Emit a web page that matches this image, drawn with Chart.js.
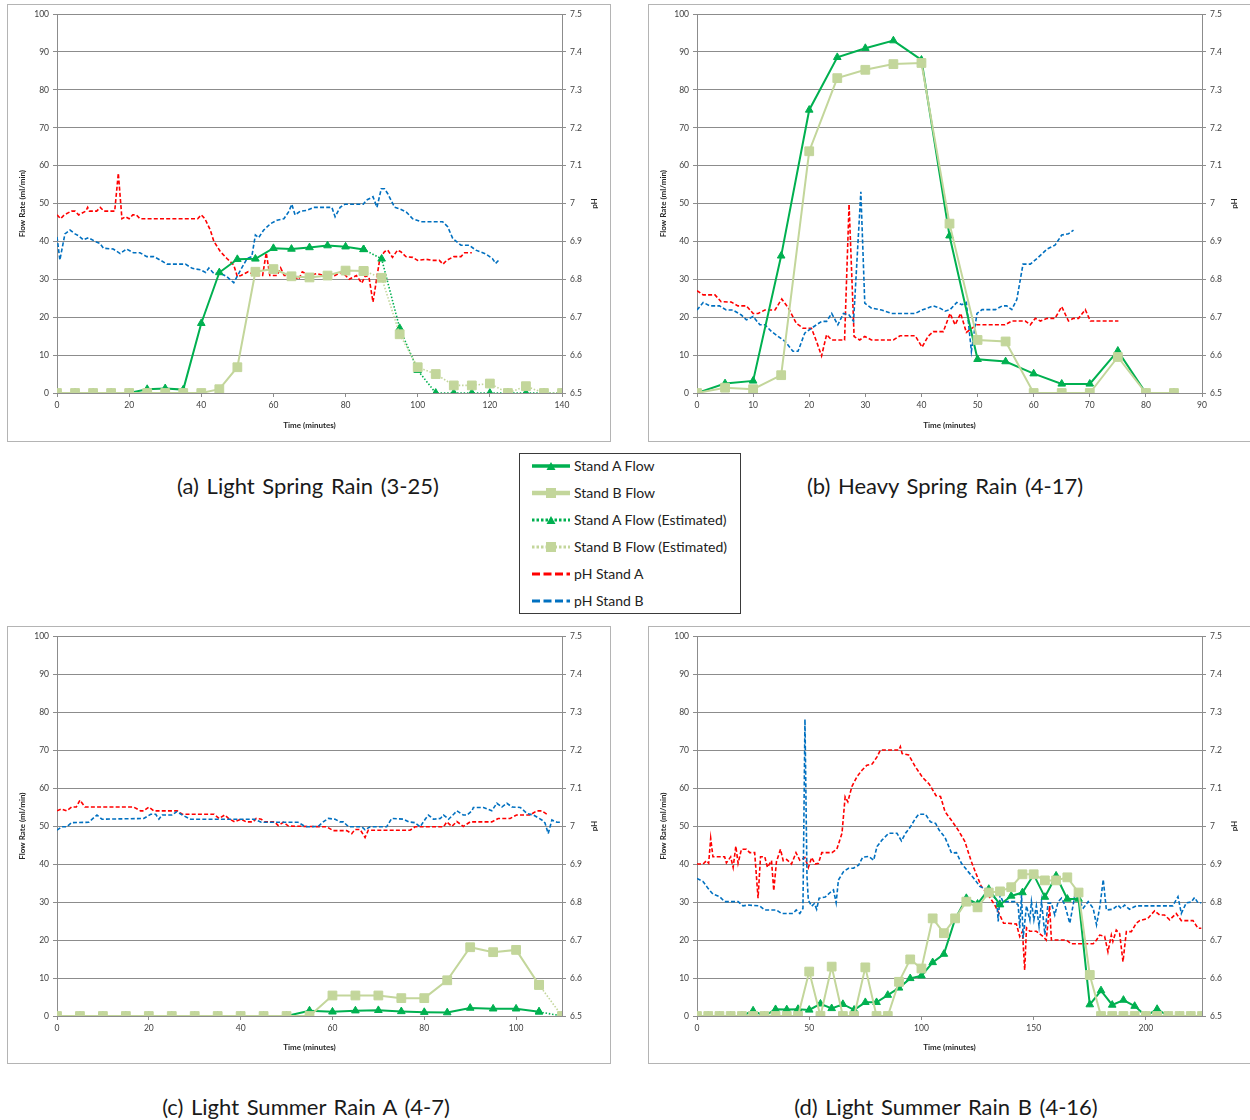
<!DOCTYPE html>
<html><head><meta charset="utf-8">
<script src="https://cdn.jsdelivr.net/npm/chart.js@4.4.1/dist/chart.umd.min.js"></script>
<style>
body{margin:0;width:1250px;height:1120px;overflow:hidden;background:#fff;font-family:Lato,sans-serif;position:relative}
.box{position:absolute;width:602px;height:436px;border:1px solid #b4b4b4;background:#fff}
.box canvas{position:absolute;left:0;top:0}
.cap{position:absolute;font-size:22px;word-spacing:2px;color:#1a1a1a;transform:translate(-50%,-50%);white-space:nowrap;font-family:Lato,sans-serif}
#legend{position:absolute;left:519px;top:453px;width:220px;height:159px;border:1px solid #3a3a3a;background:#fff}
.row{position:absolute;left:0;height:20px;width:220px}
.row svg{position:absolute;left:12px;top:3px}
.row span{position:absolute;left:54px;top:0px;font-size:14px;color:#222;line-height:18px;white-space:nowrap}
</style></head><body>

<div class="box" style="left:7px;top:4px"><canvas id="ca" width="602" height="436"></canvas></div>
<div class="box" style="left:648px;top:4px"><canvas id="cb" width="602" height="436"></canvas></div>
<div class="box" style="left:7px;top:626px"><canvas id="cc" width="602" height="436"></canvas></div>
<div class="box" style="left:648px;top:626px"><canvas id="cd" width="602" height="436"></canvas></div>

<div class="cap" style="left:308px;top:485px">(a) Light Spring Rain (3-25)</div>
<div class="cap" style="left:945px;top:485px">(b) Heavy Spring Rain (4-17)</div>
<div class="cap" style="left:306px;top:1106px">(c) Light Summer Rain A (4-7)</div>
<div class="cap" style="left:946px;top:1106px">(d) Light Summer Rain B (4-16)</div>

<div id="legend"></div>

<script>
// ---------- legend labels ----------
const seriesNames = ['Stand A Flow','Stand B Flow','Stand A Flow (Estimated)','Stand B Flow (Estimated)','pH Stand A','pH Stand B'];

// ---------- panel (a) ----------
const aFlowTime = [0,5,10,15,20,25,30,35,40,45,50,55,60,65,70,75,80,85];
const aFlowA = [0,0,0,0,0,1.0,1.2,0.9,18.4,31.8,35.3,35.4,38.2,38.0,38.4,38.9,38.6,37.9];
const aFlowB = [0,0,0,0,0,0,0,0,0,1.0,6.8,32.0,32.7,30.8,30.5,31.0,32.3,32.2];
const aEstTime = [85,90,95,100,105,110,115,120,125,130,135,140];
const aFlowAEst = [37.9,35.4,17.1,6.0,0,0,0,0,0,0,0,0];
const aFlowBEst = [32.2,30.4,15.5,6.8,5.0,2.0,2.0,2.5,0,1.8,0,0];
const aPhATime = [0,1,2,4,5,6,7,8,8.5,9,11,12,13,16,17,18,19,20,21,22,23,39,40,41,42.5,43.5,45.3,47.1,49,50,51,53,55,57,58,59,61,62,63,65,67,68,70,72,74,75,77,79,80,81,83,84.5,85.5,86.5,87.6,89.5,90.8,91.7,93,94.4,95.3,96.7,98.6,100,102.3,104,106,107,108,110,112,113,115];
const aPhA = [6.97,6.96,6.97,6.98,6.98,6.97,6.975,6.98,6.99,6.98,6.98,6.99,6.98,6.98,7.08,6.96,6.965,6.96,6.97,6.97,6.96,6.96,6.97,6.96,6.93,6.90,6.873,6.855,6.838,6.807,6.81,6.82,6.81,6.81,6.87,6.81,6.81,6.83,6.81,6.81,6.80,6.82,6.81,6.815,6.81,6.82,6.81,6.82,6.81,6.80,6.81,6.79,6.81,6.805,6.74,6.855,6.873,6.877,6.858,6.877,6.873,6.86,6.858,6.85,6.853,6.85,6.85,6.84,6.85,6.86,6.86,6.87,6.87];
const aPhBTime = [0,0.8,2.2,3.6,5,6,7.3,8.7,10.6,11.9,12.9,15.6,17.5,19.3,21.2,23,24.9,26.8,28.6,30.5,35.6,37.5,39.8,41.2,42.1,43.5,45.3,47.1,49,50.4,52.7,54,55,55.9,57.3,59.2,61,62.9,64.2,65.1,66,67.5,69.3,71.2,74,76.2,77.1,78.5,79.8,84.9,85.8,87.6,88.7,89.9,90.8,91.7,93.6,95,96.8,98.6,100.9,106.9,108.3,109.7,112,114.3,116.1,118.9,120.7,121.6,122.5];
const aPhB = [6.912,6.851,6.92,6.93,6.92,6.915,6.904,6.91,6.90,6.895,6.882,6.88,6.868,6.88,6.87,6.87,6.86,6.86,6.851,6.84,6.84,6.829,6.825,6.818,6.83,6.815,6.816,6.807,6.791,6.816,6.855,6.86,6.917,6.91,6.93,6.947,6.956,6.96,6.978,6.998,6.97,6.98,6.982,6.99,6.99,6.99,6.965,6.99,6.998,6.998,7.009,7.018,6.99,7.039,7.039,7.026,6.99,6.986,6.978,6.96,6.952,6.952,6.939,6.908,6.89,6.89,6.877,6.867,6.855,6.842,6.851];

// ---------- panel (b) ----------
const bFlowTime = [0,5,10,15,20,25,30,35,40,45,50,55,60,65,70,75,80,85];
const bFlowA = [0,2.5,3.2,36.2,74.7,88.6,91,93,87.9,41.5,8.9,8.3,5.1,2.4,2.4,11.1,0,0];
const bFlowB = [0,1.4,1.0,4.7,63.8,83.1,85.3,86.8,87.1,44.7,14.0,13.6,0,0,0,9.5,0,0];
const bPhATime = [0,1.1,3.2,4.3,6.1,7.3,8.8,10,10.9,12.1,13.9,15.1,16.3,17.7,18.9,20.4,21.3,22.2,23.1,24,26.3,27.1,28,29,29.9,31.1,35,36.2,38.9,40.1,41.2,42.1,43.9,45.1,46,47,48,48.9,49.9,54.9,56.1,58.5,59.4,60.3,61.2,62.4,63.8,65,66.2,67.1,68,69.2,70.1,75.1];
const bPhA = [6.77,6.759,6.759,6.741,6.74,6.73,6.73,6.71,6.71,6.719,6.719,6.748,6.724,6.684,6.671,6.671,6.636,6.598,6.654,6.64,6.64,6.998,6.649,6.64,6.649,6.64,6.64,6.651,6.651,6.621,6.65,6.662,6.662,6.71,6.68,6.71,6.66,6.67,6.68,6.68,6.69,6.69,6.68,6.697,6.69,6.697,6.697,6.728,6.69,6.697,6.697,6.72,6.69,6.69];
const bPhBTime = [0,1.1,2.3,4,5.2,6.4,7.9,8.8,10,11.2,12.1,13.3,14.5,15.7,17.1,18,19.2,20.4,22.2,23.1,24,25.1,26.1,27.1,27.9,29.2,29.9,31.1,32.9,34.7,38.9,40.1,42.1,43.3,44.2,45.1,46.3,47.2,48,48.9,49.9,50.8,53.2,54.4,55.2,56.1,57,58.1,59.4,60.6,62.4,63.8,65,66.2,67.1];
const bPhB = [6.719,6.739,6.73,6.73,6.719,6.719,6.706,6.693,6.702,6.68,6.68,6.662,6.649,6.636,6.61,6.61,6.658,6.671,6.689,6.689,6.71,6.68,6.71,6.706,6.689,7.031,6.737,6.724,6.719,6.71,6.71,6.719,6.73,6.724,6.716,6.72,6.739,6.733,6.739,6.61,6.71,6.72,6.72,6.73,6.73,6.72,6.747,6.84,6.84,6.855,6.88,6.89,6.917,6.92,6.93];

// ---------- panel (c) ----------
const cFlowTime = [0,5,10,15,20,25,30,35,40,45,50,55,60,65,70,75,80,85,90,95,100,105];
const cFlowA = [0,0,0,0,0,0,0,0,0,0,0,1.4,1.1,1.4,1.5,1.2,1.0,0.9,2.1,1.9,1.9,1.1];
const cFlowB = [0,0,0,0,0,0,0,0,0,0,0,0,5.4,5.4,5.4,4.7,4.7,9.4,18.1,16.8,17.4,8.2];
const cEstTime = [105,110];
const cFlowAEst = [1.1,0];
const cFlowBEst = [8.2,0];
const cPhATime = [0,1,2.1,3.2,4.2,5,6.1,16.7,18.2,18.9,20,21.1,26.2,27.3,34.2,35.3,36.5,37.6,38.7,40.1,41.2,42.7,43.4,44.5,45.2,47.4,48.2,49.3,50.4,58.7,60.2,63.1,64.2,64.9,66,67.1,67.8,76.9,78,84.2,84.9,86,87.1,88.5,90,94.7,96.1,98.7,100.1,103,104.5,105.6,107];
const cPhA = [7.04,7.045,7.04,7.05,7.05,7.068,7.05,7.05,7.04,7.04,7.05,7.04,7.04,7.031,7.031,7.02,7.029,7.018,7.011,7.018,7.011,7.011,7.02,7.018,7.011,7.011,7.001,7.01,7.0,6.998,6.988,6.988,6.98,6.991,6.991,6.97,6.989,6.989,6.998,6.998,7.011,6.999,7.012,6.999,7.011,7.011,7.02,7.02,7.029,7.029,7.04,7.04,7.029];
const cPhBTime = [0,1,2.1,3.2,6.9,8.7,9.8,18.9,20.4,21.5,22.2,22.9,25.1,26.1,27.3,29.1,43,44.5,52.5,53.6,54.4,56.9,58,59.1,60.6,61.6,62.4,63.5,66.4,67.1,68.2,71.8,72.9,75.5,76.6,78,79.1,80.2,80.9,82,83.5,84.2,85.3,86.4,87.1,88.5,89.3,90.4,90.7,92.9,94.7,95.8,96.9,98,99.1,100.9,102.4,103.8,105.6,106.3,107,107.8,108.9,110];
const cPhB = [6.989,6.998,6.998,7.009,7.01,7.029,7.018,7.02,7.031,7.031,7.018,7.029,7.029,7.038,7.029,7.018,7.018,7.01,7.01,7.002,6.998,6.999,7.011,7.02,7.018,7.011,7.011,6.998,6.998,6.99,6.998,6.998,7.02,7.018,7.011,7.009,6.998,7.018,7.029,7.018,7.02,7.029,7.018,7.031,7.04,7.029,7.029,7.04,7.049,7.049,7.04,7.06,7.05,7.06,7.05,7.049,7.033,7.029,7.016,7.008,6.98,7.016,7.01,7.01];

// ---------- panel (d) ----------
const dFlowTime = [0,5,10,15,20,25,30,35,40,45,50,55,60,65,70,75,80,85,90,95,100,105,110,115,120,125,130,135,140,145,150,155,160,165,170,175,180,185,190,195,200,205,210,215,220,225];
const dFlowA = [0,0,0,0,0,1.4,0,1.75,1.7,1.8,1.6,3.2,2.0,3.1,1.6,3.6,3.6,5.5,7.4,9.9,10.6,14.1,16.3,25.5,31,29.5,33.4,29.3,31.6,32.5,37.2,31.3,36.9,30.8,30.8,3.0,6.7,2.9,4.2,2.6,0,1.8,0,0,0,0];
const dFlowB = [0,0,0,0,0,0,0,0,0,0,11.7,0,13,0,0,12.8,0,0,9,14.9,12.5,25.7,21.8,25.7,30.1,28.6,32.5,32.8,33.9,37.3,37.3,35.7,35.7,36.5,32.5,10.8,0,0,0,0,0,0,0,0,0,0];
const dPhATime = [0,2.7,4.2,5.2,6.1,7.1,12.3,13.1,15,16.1,17.3,18.3,19.8,22,23.5,25.7,27.2,28.3,30.2,31.4,33.2,34.2,35.4,37.2,38.4,39.9,42.1,44.1,45.8,48.1,49.6,51.1,52.6,54.1,55.6,60.1,62.3,64.6,66,67.2,69,71.3,73.5,75.7,78,80.2,81.7,89.9,90.6,91.4,94.3,97.3,100.5,103.5,106.5,108.5,110.5,113.5,116.3,119.3,122.2,124.5,126.7,129.7,132.6,134.9,136.6,138.6,142.3,143.8,145,146,146.8,148.3,151.2,154.2,155.6,157.1,157.9,160.1,164.6,166.8,176.5,178,179.4,181.6,183.1,184.6,185.3,186.8,188.3,189.8,191.3,193.5,195.7,197.2,200.9,203.9,206.1,208.3,210.6,213.5,215.8,221,223.2,224.7];
const dPhA = [6.90,6.90,6.909,6.902,6.968,6.919,6.919,6.903,6.919,6.891,6.947,6.902,6.939,6.939,6.93,6.93,6.81,6.919,6.919,6.891,6.909,6.83,6.906,6.939,6.909,6.912,6.90,6.93,6.91,6.917,6.891,6.917,6.90,6.902,6.93,6.93,6.939,6.981,7.077,7.064,7.104,7.13,7.147,7.16,7.163,7.182,7.20,7.20,7.209,7.191,7.187,7.156,7.128,7.11,7.08,7.078,7.038,7.014,6.99,6.96,6.907,6.872,6.841,6.819,6.793,6.766,6.744,6.744,6.742,6.709,6.723,6.621,6.732,6.723,6.723,6.709,6.70,6.79,6.70,6.70,6.70,6.69,6.69,6.70,6.713,6.71,6.669,6.713,6.696,6.726,6.717,6.643,6.722,6.722,6.744,6.751,6.757,6.777,6.766,6.766,6.753,6.77,6.751,6.751,6.731,6.731];
const dPhBTime = [0,2.7,4.9,7.1,10.1,12.3,18.3,20.5,22.7,27.9,30.2,35.4,37.6,42.8,44.2,45.8,47.2,48.1,49,49.6,51.1,52.3,53.3,54.4,57.1,59.3,60.8,62,63,65.3,67.5,69.7,72,73.8,76.5,78.7,80.2,82.4,85.4,89.1,91.1,92.9,95.1,97.3,98.8,101.8,104,106.3,107.8,110.5,113.4,115.6,117.8,120.8,123.8,126,129,131.2,133.5,134.2,135,136.4,137.9,141.6,143.1,143.8,144.6,145.3,146.8,148.3,149,150.1,151.2,152.4,153.5,155,156.4,157.9,159.4,160.9,162.4,163.9,166.1,168.4,169.8,172.1,174.3,176.5,178,179.5,181,182.4,185.3,187.5,189,190.5,192.7,195.7,212,214.3,215.8,218,220.2,221.7,223.2,224.7];
const dPhB = [6.862,6.854,6.836,6.821,6.814,6.801,6.801,6.79,6.792,6.79,6.779,6.779,6.77,6.77,6.779,6.77,6.783,7.281,6.867,6.805,6.789,6.796,6.781,6.81,6.813,6.825,6.832,6.798,6.858,6.88,6.889,6.889,6.897,6.918,6.92,6.91,6.946,6.963,6.981,6.981,6.961,6.981,6.998,7.02,7.031,7.031,7.011,7.007,6.99,6.97,6.929,6.93,6.902,6.88,6.859,6.841,6.834,6.819,6.806,6.749,6.819,6.80,6.801,6.801,6.792,6.731,6.819,6.705,6.79,6.753,6.801,6.753,6.79,6.736,6.801,6.714,6.797,6.797,6.766,6.801,6.81,6.792,6.744,6.819,6.81,6.784,6.801,6.784,6.74,6.788,6.859,6.779,6.781,6.792,6.783,6.792,6.781,6.79,6.79,6.814,6.77,6.798,6.80,6.812,6.798,6.798];

// ---------- styling ----------
const COL_A = '#00B050', COL_B = '#C3D69B', COL_PHA = '#FF0000', COL_PHB = '#0070C0';
const GRID = '#8c8c8c', TICKC = '#404040', TITLEC = '#262626';
Chart.defaults.font.family = 'Lato, sans-serif';

function pts(t, v){ return t.map((x,i)=>({x:x, y:v[i]})); }

function flowDs(label, t, v, kind, est){
  const isA = kind === 'A';
  return {
    label, data: pts(t,v), yAxisID:'y',
    borderColor: isA?COL_A:COL_B, backgroundColor: isA?COL_A:COL_B,
    pointBackgroundColor: isA?COL_A:COL_B, pointBorderColor: isA?COL_A:COL_B,
    borderWidth: est?1.6:2, borderDash: est?[1.5,1.8]:[],
    pointStyle: isA?'triangle':'rect', pointRadius: isA?4.4:6.2, pointBorderWidth:1,
    tension:0, order: isA?(est?4:3):(est?2:1)
  };
}
function phDs(label, t, v, col, ord){
  return {label, data: pts(t,v), yAxisID:'y1', borderColor:col, backgroundColor:col,
    borderWidth:1.6, borderDash:[4,2.2], pointRadius:0, tension:0, order:ord};
}

const phTitle = {id:'phTitle', afterDraw(chart){
  const {ctx, chartArea:a} = chart;
  ctx.save();
  ctx.font = 'bold 8px Lato, sans-serif'; ctx.fillStyle = TITLEC;
  ctx.textAlign='center'; ctx.textBaseline='middle';
  ctx.translate(a.right+32, (a.top+a.bottom)/2);
  ctx.rotate(-Math.PI/2);
  ctx.fillText('pH',0,0);
  ctx.restore();
}};

function makePanel(id, p){
  const ds = [
    flowDs(seriesNames[0], p.ft, p.fa, 'A', false),
    flowDs(seriesNames[1], p.ft, p.fb, 'B', false)
  ];
  if (p.et){
    ds.push(flowDs(seriesNames[2], p.et, p.ea, 'A', true));
    ds.push(flowDs(seriesNames[3], p.et, p.eb, 'B', true));
  }
  ds.push(phDs(seriesNames[4], p.pat, p.pa, COL_PHA, 6));
  ds.push(phDs(seriesNames[5], p.pbt, p.pb, COL_PHB, 5));
  const tickFont = {size:8.5};
  new Chart(document.getElementById(id), {
    type:'line',
    data:{datasets:ds},
    options:{
      responsive:false, animation:false, devicePixelRatio:1,
      layout:{padding:{left:0,right:0,top:p.T,bottom:0}},
      plugins:{legend:{display:false}, tooltip:{enabled:false}},
      scales:{
        x:{type:'linear', position:'bottom', min:0, max:p.xmax,
          afterBuildTicks:s=>{ s.ticks = s.ticks.filter(t=>Math.abs(t.value % p.xstep) < 1e-6); },
          ticks:{stepSize:p.xstep, font:tickFont, color:TICKC, padding:3, maxRotation:0, autoSkip:false},
          grid:{drawOnChartArea:false, drawTicks:true, tickLength:4, color:GRID, tickColor:GRID},
          border:{color:GRID},
          title:{display:true, text:'Time (minutes)', color:TITLEC, font:{size:8, weight:'bold'}, padding:{top:0,bottom:11}},
          afterFit:s=>{ s.height = p.B; }
        },
        y:{position:'left', min:0, max:100,
          ticks:{stepSize:10, font:tickFont, color:TICKC, padding:4},
          grid:{color:GRID, tickLength:4, tickColor:GRID},
          border:{color:GRID},
          title:{display:true, text:'Flow Rate (ml/min)', color:TITLEC, font:{size:8, weight:'bold'}, padding:{top:10,bottom:0}},
          afterFit:s=>{ s.width = p.L; }
        },
        y1:{position:'right', min:6.5, max:7.5,
          ticks:{stepSize:0.1, font:tickFont, color:TICKC, padding:4, callback:v=>String(Math.round(v*10)/10)},
          grid:{drawOnChartArea:false, tickLength:4, color:GRID, tickColor:GRID},
          border:{color:GRID},
          afterFit:s=>{ s.width = p.R; }
        }
      }
    },
    plugins:[phTitle]
  });
}

makePanel('ca', {ft:aFlowTime, fa:aFlowA, fb:aFlowB, et:aEstTime, ea:aFlowAEst, eb:aFlowBEst,
  pat:aPhATime, pa:aPhA, pbt:aPhBTime, pb:aPhB, xmax:140, xstep:20, L:49, R:48, T:8, B:48});
makePanel('cb', {ft:bFlowTime, fa:bFlowA, fb:bFlowB,
  pat:bPhATime, pa:bPhA, pbt:bPhBTime, pb:bPhB, xmax:90, xstep:10, L:48, R:49, T:8, B:48});
makePanel('cc', {ft:cFlowTime, fa:cFlowA, fb:cFlowB, et:cEstTime, ea:cFlowAEst, eb:cFlowBEst,
  pat:cPhATime, pa:cPhA, pbt:cPhBTime, pb:cPhB, xmax:110, xstep:20, L:49, R:48, T:9, B:47});
makePanel('cd', {ft:dFlowTime, fa:dFlowA, fb:dFlowB,
  pat:dPhATime, pa:dPhA, pbt:dPhBTime, pb:dPhB, xmax:225, xstep:50, L:48, R:49, T:9, B:47});

// ---------- legend ----------
(function(){
  const leg = document.getElementById('legend');
  const tri = '<polygon points="19,2 23.5,10 14.5,10" fill="'+COL_A+'"/>';
  const sq = '<rect x="14" y="1" width="10" height="10" fill="'+COL_B+'"/>';
  const sym = [
    '<line x1="0" y1="6" x2="38" y2="6" stroke="'+COL_A+'" stroke-width="3.5"/>'+tri,
    '<line x1="0" y1="6" x2="38" y2="6" stroke="'+COL_B+'" stroke-width="4.5"/>'+sq,
    '<line x1="0" y1="6" x2="38" y2="6" stroke="'+COL_A+'" stroke-width="3" stroke-dasharray="2.5,2"/>'+tri,
    '<line x1="0" y1="6" x2="38" y2="6" stroke="'+COL_B+'" stroke-width="3" stroke-dasharray="2.5,2"/>'+sq,
    '<line x1="0" y1="6" x2="38" y2="6" stroke="'+COL_PHA+'" stroke-width="3" stroke-dasharray="8,3.5"/>',
    '<line x1="0" y1="6" x2="38" y2="6" stroke="'+COL_PHB+'" stroke-width="3" stroke-dasharray="8,3.5"/>'
  ];
  seriesNames.forEach((n,i)=>{
    const r = document.createElement('div');
    r.className='row';
    r.style.top = (3 + 27*i) + 'px';
    r.innerHTML = '<svg width="40" height="13" viewBox="0 0 40 13">'+sym[i]+'</svg><span>'+n+'</span>';
    leg.appendChild(r);
  });
})();
</script>
</body></html>
